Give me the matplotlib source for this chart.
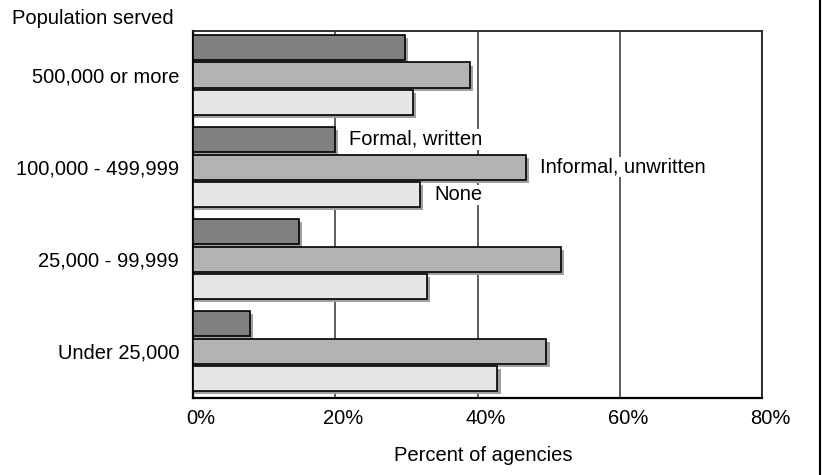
import numpy as np
import matplotlib
matplotlib.use('Agg')
import matplotlib.pyplot as plt
import matplotlib.transforms as mtransforms
from matplotlib.lines import Line2D

plt.rcParams['font.family'] = ['Liberation Sans', 'DejaVu Sans']

groups = ['500,000 or more', '100,000 - 499,999', '25,000 - 99,999', 'Under 25,000']
formal = [29.8, 19.9, 14.9, 8.0]
informal = [38.9, 46.8, 51.7, 49.7]
none = [30.9, 31.9, 32.9, 42.8]
series_names = ['Formal, written', 'Informal, unwritten', 'None']
xticks = [0, 20, 40, 60, 80]

fs = 14.5

fig = plt.figure(figsize=(8.25, 4.75), dpi=100)
ax = fig.add_axes([0.234, 0.162, 0.6896, 0.7727])

y = np.arange(len(groups))
h = 0.272
step = 0.30
colors = ['#808080', '#b3b3b3', '#e6e6e6']
dx, dy = 0.45, 0.035  # drop shadow offset

for k, (vals, col) in enumerate(zip([formal, informal, none], colors)):
    yy = y + (k - 1) * step
    ax.barh(yy + dy, np.array(vals) + dx, height=h, color='#a0a0a0',
            edgecolor='none', zorder=2)
    ax.barh(yy, vals, height=h, color=col, edgecolor='black',
            linewidth=1.2, zorder=3)

# series labels beside the 100,000 - 499,999 bars
for k, (vals, name) in enumerate(zip([formal, informal, none], series_names)):
    ax.text(vals[1] + 2.0, y[1] + (k - 1) * step, name, fontsize=fs,
            va='center', ha='left', zorder=4,
            bbox=dict(facecolor='white', edgecolor='none', pad=0.5))

ax.set_xlim(0, 80)
ax.set_ylim(3.51, -0.478)
ax.set_xticks(xticks)
ax.set_xticklabels([f'{v}%' for v in xticks], fontsize=fs)
ax.set_yticks(y)
ax.set_yticklabels(groups, fontsize=fs)
ax.tick_params(axis='both', length=0)
ax.tick_params(axis='y', pad=10)
ax.tick_params(axis='x', pad=8)
offset = mtransforms.ScaledTranslation(8 / 100, 0, fig.dpi_scale_trans)
for lbl in ax.get_xticklabels():
    lbl.set_transform(lbl.get_transform() + offset)

ax.xaxis.grid(True, color='#333333', linewidth=1.1, zorder=1)
ax.set_axisbelow(True)
for s in ['left', 'bottom']:
    ax.spines[s].set_linewidth(1.6)
    ax.spines[s].set_color('black')
for s in ['top', 'right']:
    ax.spines[s].set_linewidth(1.3)
    ax.spines[s].set_color('#222222')

ax.set_xlabel('Percent of agencies', fontsize=fs)
ax.xaxis.set_label_coords(0.51, -0.13)

fig.text(12 / 825, 1 - 19 / 475, 'Population served', fontsize=fs,
         ha='left', va='center')
fig.add_artist(Line2D([820 / 825, 820 / 825], [0, 1], color='black',
                      linewidth=1.5, transform=fig.transFigure))

fig.savefig('out.png', dpi=100)
